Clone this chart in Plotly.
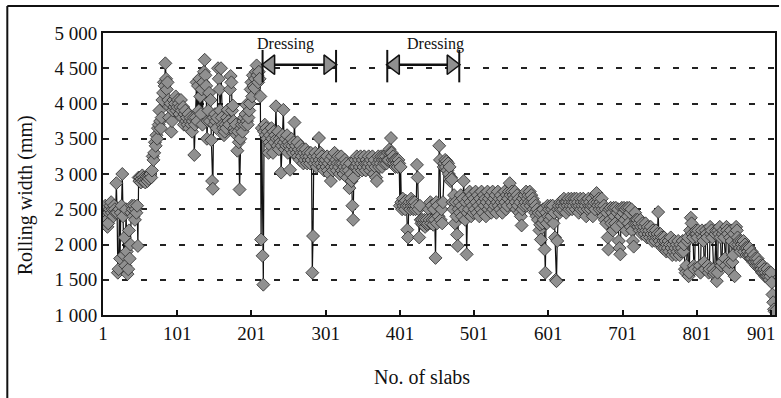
import plotly.graph_objects as go

# ---- data (rolling width in mm, per slab) ----
width_s001 = [2450, 2300, 2500, 2550, 2400, 2350, 2250, 2300, 2450, 2500, 2550, 2600, 2450, 2500, 2400, 2550, 2500, 2450]
width_s019 = [2870, 2450, 1600, 1650, 2500, 1800, 2450, 2550, 3000, 2400, 1850, 2100, 1700, 2500, 1900, 1580, 1650, 2200, 1800, 2000,
              2450, 2550, 2500, 2400, 2550, 2350, 2500, 2450, 2550, 1980]
width_s049 = [2950, 2900, 2950, 2880, 2930, 2980, 2900, 2950, 2920, 2880, 2940, 2960, 2900, 2950, 2930, 2980, 3000, 2950, 3050]
width_s068 = [3250, 3200, 3300, 3450, 3400, 3550, 3500, 3650, 3700, 3900, 3750, 3650, 3800, 4050, 4150, 4300, 4250, 4570, 4350, 4200,
              4300, 4050]
width_s090 = [3800, 3950, 4000, 3600, 3750, 3900, 4050, 3950, 4000, 4100, 3900, 3950, 4050, 4000, 3850, 3950, 4050, 3900, 3800, 3950,
              3700, 3850, 3900, 3750, 3800, 3700, 3850, 3650, 3750, 3800, 3700, 3600, 3750, 3800]
width_s124 = [3270, 3700, 3800, 4300, 3750, 4250, 3900, 4350, 4100, 3850, 4200, 3700, 4300, 4450, 4620, 4400, 4250, 3500, 3750, 3900,
              4150, 3750, 4050, 3480, 2900, 2790, 3800, 3700, 3850, 3750, 3650, 3800, 4500, 4350, 4200, 3900, 4500, 3800]
width_s162 = [3700, 3650, 3550, 3600, 3700, 3650, 3800, 3910, 3750, 3700, 4200, 4390, 4300, 3900, 3970, 3750, 3650, 3600, 3700, 3550,
              3330, 3600, 3450, 2780, 3500, 3650, 3700, 3600, 3750, 3800, 3700, 3850, 3980, 3750, 3700, 3800, 3900, 4000]
width_s200 = [4200, 4300, 4100, 4400, 4250, 4220, 4350, 4450, 4540, 4400, 4300, 4450, 4350, 4100]
width_s214 = [2070, 3650, 1840, 1430, 3600, 3700, 3550, 3650, 3500, 3600, 3300, 3450, 3550, 3400, 3650, 3500, 3300, 3600, 3450, 3550,
              3960, 3500, 3400, 3600, 3350, 3500, 3450, 3020, 3400, 3550, 3910, 3450, 3350, 3500, 3400, 3550, 3300, 3450, 3400, 3060,
              3350, 3500, 3400, 3300, 3450, 3730, 3350]
width_s261 = [3400, 3300, 3450, 3250, 3350, 3200, 3400, 3300, 3250, 3350, 3150, 3300, 3200, 3350, 3250, 3150, 3300, 3200, 3250, 3150,
              3300, 3200, 1600, 2120, 3250, 3150, 3300, 3200, 3100, 3250, 3150, 3510, 3200, 3300, 3150, 3250, 3100, 3200, 3050, 3150]
width_s301 = [3200, 3100, 3250, 3050, 3150, 3000, 3200, 2900, 3100, 3250, 3050, 3150, 3300, 3100, 3200, 3050, 3150, 3250, 3100, 3000,
              3150, 3250, 3050, 3150, 3000, 3100, 3200, 3050, 3150, 2950, 3100, 3050, 2800, 3150, 3000, 2900, 2550, 2350, 2950, 3100]
width_s341 = [3200, 3100, 3250, 3150, 3050, 3200, 3100, 3250, 3150, 3050, 3200, 3100, 3250, 3150, 3050, 3200, 3150, 3100, 3250, 3150,
              3050, 3200, 3100, 3250, 3150, 3000, 3200, 3100, 2950, 2900, 3150, 3250, 3100, 3200, 3150, 3250, 3100, 3200, 3250, 3150,
              3200, 3250, 3150, 3200, 3300, 3200, 3350, 3300, 3510, 3300, 3200, 3250, 3150, 3200, 3100, 3200, 3150, 3100, 3200, 3150]
width_s401 = [2550, 3100, 2600, 2500, 2650, 2550, 2600, 2500, 2620, 2550, 2210, 2100, 2550, 2600, 2500, 2650, 2550, 2600, 2500, 2550,
              2600, 2500, 2550, 3130, 2950, 2500, 2100, 2550, 2350, 2300]
width_s431 = [2350, 2280, 2300, 2350, 2250, 2300, 2350, 2280, 2300, 2500, 2350, 2600, 2300, 2550, 2350, 2280, 2500, 2350, 1810, 2600,
              2300, 2550, 2400, 3400, 3200, 2350, 2500, 2300, 2600, 3100]
width_s461 = [3150, 3200, 3100, 3180, 3050, 3150, 3000, 3100, 2900, 2950, 2920, 2600, 2500, 2700, 2300, 2600, 2400, 2140, 1980, 2500]
width_s481 = [2600, 2450, 2700, 2550, 2400, 2650, 2900, 2500, 2350, 2600, 1860, 2450, 2650, 2500, 2750, 2600, 2400, 2700, 2550, 2450,
              2650, 2500, 2750, 2600, 2450, 2700, 2550, 2400, 2650, 2500, 2750, 2600, 2450, 2700, 2550, 2650, 2400, 2600, 2750, 2500]
width_s521 = [2650, 2550, 2700, 2450, 2600, 2750, 2500, 2650, 2550, 2700, 2450, 2600, 2750, 2550, 2650, 2500, 2700, 2600, 2450, 2650,
              2550, 2750, 2600, 2500, 2700, 2550, 2650, 2750, 2870, 2700, 2600, 2750, 2550, 2700, 2650, 2750, 2600, 2500, 2700, 2550,
              2650, 2450, 2600, 2400, 2270, 2500, 2650, 2550, 2700, 2600, 2750, 2550, 2650, 2700, 2600, 2750, 2550, 2700, 2600, 2650,
              2500, 2600, 2450, 2550, 2400, 2500, 2350, 2450, 2200, 2280]
width_s591 = [2070, 2450, 2300, 2500, 2350, 1930, 1600, 2450, 2300, 2550, 2400, 2500, 2350, 2550, 2400, 2500, 2550, 2300, 2450, 2100,
              1500, 1480, 2050, 2500, 2550, 2450, 2600, 2500, 2550, 2600]
width_s621 = [2500, 2650, 2550, 2600, 2450, 2600, 2550, 2650, 2500, 2600, 2550, 2650, 2500, 2600, 2550, 2650, 2600, 2500, 2650, 2550,
              2600, 2450, 2550, 2650, 2500, 2600, 2550, 2650, 2500, 2600, 2550, 2400, 2600, 2500, 2650, 2550, 2600, 2500, 2550, 2650,
              2400, 2550, 2600, 2500, 2700, 2730, 2600, 2550, 2650, 2500, 2600, 2550, 2650, 2500, 2400, 2550, 2350, 2500, 2300, 2450]
width_s681 = [2100, 1930, 2500, 2350, 2520, 2300, 2450, 2200, 2520, 2400, 2300, 2520, 2250, 2450, 2500, 2050, 1950, 1860, 2400, 2520,
              2300, 2450, 2520, 2350, 2500, 2200, 2520, 2400, 2300, 2520, 2450, 2250, 2500, 2200, 2050, 1970, 2300, 2450, 2350, 2300]
width_s721 = [2350, 2250, 2300, 2200, 2350, 2250, 2150, 2300, 2200, 2250, 2150, 2300, 2200, 2100, 2250, 2150, 2200, 2100, 2250, 2150,
              2050, 2200, 2100, 2150, 2050, 2200, 2100, 2150, 2460, 2100, 2050, 2150, 2000, 2100, 1950, 2050, 2100, 1950, 2050, 1900]
width_s761 = [2000, 1950, 2050, 1900, 2000, 2100, 1950, 1850, 2000, 1900, 2050, 1950, 1850, 2000, 1900, 2050, 1950, 1850, 2000, 1900,
              1950, 2050, 1900, 2000, 1650, 1600, 1700, 2050, 2100, 1550, 1600, 2200, 2380, 2300, 2150, 2100, 1700, 1650, 2150, 2200]
width_s801 = [2150, 2100, 2200, 1650, 1700, 1600, 2150, 2200, 2100, 2050, 1750, 1650, 2200, 2150, 2100, 1700, 1600, 1650, 2250, 2150,
              2200, 2100, 1650, 1570, 1600, 2150, 2200, 1480, 1600, 2200, 2150, 2250, 2100, 1700, 1750, 2150, 2200, 2100, 1800, 1700,
              2250, 2200, 2150, 1650, 1750, 2100, 2200, 2050, 1750, 1850, 2150, 1550, 2000, 2250, 2200, 2100, 2000, 2050, 1950, 1900]
width_s861 = [2050, 2000, 1950, 2050, 1900, 2000, 1950, 1850, 1950, 1900, 1850, 1950, 1850, 1800, 1900, 1800, 1750, 1850, 1750, 1800,
              1700, 1750, 1800, 1700, 1750, 1650, 1700, 1650, 1600, 1700, 1600, 1650, 1550, 1600, 1550, 1650, 1550, 1600, 1500, 1550]
width_s901 = [1600, 1460, 1290, 1180, 1080, 1050]

rolling_width = (width_s001 + width_s019 + width_s049 + width_s068 + width_s090 + width_s124 + width_s162 + width_s200
                 + width_s214 + width_s261 + width_s301 + width_s341 + width_s401 + width_s431 + width_s461 + width_s481
                 + width_s521 + width_s591 + width_s621 + width_s681 + width_s721 + width_s761 + width_s801 + width_s861
                 + width_s901)
slab_no = list(range(1, len(rolling_width) + 1))

# dressing periods (slab ranges)
dressing_start = [216, 384]
dressing_end = [315, 481]
dressing_label = ["Dressing", "Dressing"]

x_tick_vals = [1, 101, 201, 301, 401, 501, 601, 701, 801, 901]
x_tick_text = ["1", "101", "201", "301", "401", "501", "601", "701", "801", "901"]
y_tick_vals = [1000, 1500, 2000, 2500, 3000, 3500, 4000, 4500, 5000]
y_tick_text = ["1 000", "1 500", "2 000", "2 500", "3 000", "3 500", "4 000", "4 500", "5 000"]

# ---- figure ----
FONT = "Liberation Serif"
INK = "#111111"
GREY = "#909090"
fig = go.Figure()

fig.add_trace(go.Scatter(
    x=slab_no, y=rolling_width, mode="lines+markers",
    line=dict(color=INK, width=1.2),
    marker=dict(symbol="diamond", size=10, color=GREY,
                line=dict(color="#2a2a2a", width=0.8)),
    showlegend=False, hoverinfo="skip"))

ARROW_Y = 4550
BAR_LO, BAR_HI = 4300, 4760
HEAD_OFF = 10.5  # slabs, half the arrow head width
for s, e in zip(dressing_start, dressing_end):
    fig.add_trace(go.Scatter(x=[s + HEAD_OFF, e - HEAD_OFF], y=[ARROW_Y, ARROW_Y], mode="lines",
                             line=dict(color=INK, width=2.5), showlegend=False, hoverinfo="skip"))
    fig.add_trace(go.Scatter(x=[s + HEAD_OFF, e - HEAD_OFF], y=[ARROW_Y, ARROW_Y], mode="markers",
                             marker=dict(symbol=["triangle-left", "triangle-right"], size=17, color=GREY,
                                         line=dict(color=INK, width=1.5)),
                             showlegend=False, hoverinfo="skip"))
    for xb in (s, e):
        fig.add_shape(type="line", xref="x", yref="y", x0=xb, x1=xb, y0=BAR_LO, y1=BAR_HI,
                      line=dict(color=INK, width=2))

label_shift = [-14, 12]
for s, e, lab, sh in zip(dressing_start, dressing_end, dressing_label, label_shift):
    fig.add_annotation(x=(s + e) / 2, y=4845, xref="x", yref="y", text=lab, showarrow=False,
                       xshift=sh, font=dict(family=FONT, size=16, color=INK))

# the last x tick label sits flush with the right edge: draw it right-aligned
shown_x_text = x_tick_text[:-1] + [""]
fig.add_annotation(text=x_tick_text[-1], xref="paper", yref="paper", x=1.004, y=-0.064,
                   xanchor="right", yanchor="middle", showarrow=False,
                   font=dict(family=FONT, size=19, color=INK))

# axis titles
fig.add_annotation(text="Rolling width (mm)", xref="paper", yref="paper", x=-0.1157, y=0.4255,
                   textangle=-90, showarrow=False, xanchor="center", yanchor="middle",
                   font=dict(family=FONT, size=20, color=INK))
fig.add_annotation(text="No. of slabs", xref="paper", yref="paper", x=0.4748, y=-0.22,
                   showarrow=False, xanchor="center", yanchor="middle",
                   font=dict(family=FONT, size=20, color=INK))

# outer frame (top and left)
fig.add_shape(type="line", xref="paper", yref="paper", x0=-0.1424, x1=1.006, y0=1.0957, y1=1.0957,
              line=dict(color=INK, width=2))
fig.add_shape(type="line", xref="paper", yref="paper", x0=-0.1424, x1=-0.1424, y0=1.0957, y1=-0.30,
              line=dict(color=INK, width=2))

fig.update_layout(
    width=781, height=398,
    margin=dict(l=103, r=4, t=33, b=83),
    paper_bgcolor="white", plot_bgcolor="white",
    font=dict(family=FONT, size=19, color=INK),
    xaxis=dict(range=[1, 906.4], tickvals=x_tick_vals, ticktext=shown_x_text,
               showgrid=False, zeroline=False, ticks="inside", ticklen=5, tickwidth=1.5, tickcolor=INK,
               showline=True, mirror=True, linecolor=INK, linewidth=2,
               tickfont=dict(family=FONT, size=19, color=INK)),
    yaxis=dict(range=[1000, 5000], tickvals=y_tick_vals, ticktext=y_tick_text,
               showgrid=True, gridcolor="#222222", gridwidth=1.5, griddash="6px,13px",
               zeroline=False, ticks="", showline=True, mirror=True, linecolor=INK, linewidth=2,
               tickfont=dict(family=FONT, size=19, color=INK)),
)

fig.write_html("out.html", config={"displayModeBar": False},
               post_script="document.body.style.margin='0';document.body.style.overflow='hidden';")
